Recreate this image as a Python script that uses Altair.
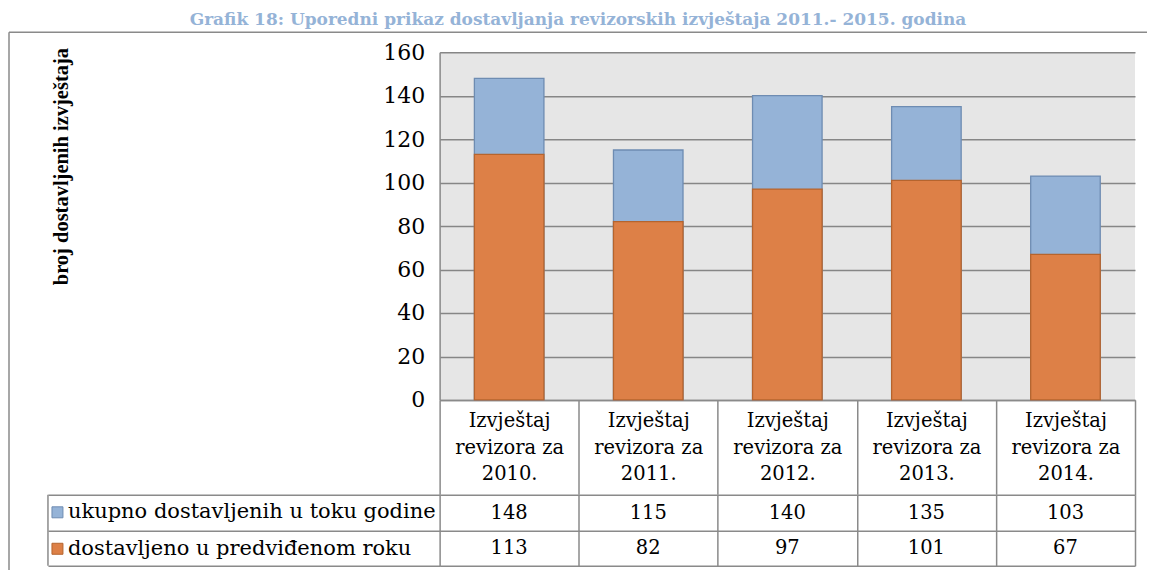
import altair as alt
import pandas as pd

# ---- data ----
categories = [
    "Izvještaj revizora za 2010.",
    "Izvještaj revizora za 2011.",
    "Izvještaj revizora za 2012.",
    "Izvještaj revizora za 2013.",
    "Izvještaj revizora za 2014.",
]
series_names = ["ukupno dostavljenih u toku godine", "dostavljeno u predviđenom roku"]
total_delivered = [148, 115, 140, 135, 103]
on_time = [113, 82, 97, 101, 67]
y_ticks = [0, 20, 40, 60, 80, 100, 120, 140, 160]
title_text = "Grafik 18: Uporedni prikaz dostavljanja revizorskih izvještaja 2011.- 2015. godina"
y_title = "broj dostavljenih izvještaja"

rows = []
for c, v in zip(categories, total_delivered):
    rows.append({"kategorija": c, "serija": series_names[0], "vrijednost": v})
for c, v in zip(categories, on_time):
    rows.append({"kategorija": c, "serija": series_names[1], "vrijednost": v})
df = pd.DataFrame(rows)
frame_df = pd.DataFrame({"k": [0]})

SERIF = "DejaVu Serif"
LINE = "#8A8A8A"
fills = ["#95B3D7", "#DD8047"]
strokes = ["#6E8CB2", "#B5642E"]

legend = alt.Legend(
    title=None, orient="none", legendX=-393, legendY=450,
    symbolType="square", symbolSize=121, symbolStrokeWidth=1,
    labelFont=SERIF, labelFontSize=21, labelColor="black", labelLimit=600,
    labelOffset=0, rowPadding=14.5, padding=0, offset=0,
)

x_top = alt.X(
    "kategorija:N", sort=categories, title=None,
    scale=alt.Scale(type="band", paddingInner=0, paddingOuter=0),
    axis=alt.Axis(
        domain=True, domainColor=LINE, domainWidth=1.5,
        ticks=True, tickBand="extent", tickSize=95, tickColor=LINE, tickWidth=1.5,
        labelExpr="[slice(datum.label, 0, 9), slice(datum.label, 10, 21), slice(datum.label, 22)]",
        labelFont=SERIF, labelFontSize=19.5, labelColor="black", labelAngle=0,
        labelLineHeight=26.5, labelBaseline="top", labelPadding=-83,
        grid=False,
    ),
)

bars = alt.Chart(df).mark_bar(width=alt.RelativeBandSize(0.5), strokeWidth=1.3).encode(
    x=x_top,
    y=alt.Y(
        "vrijednost:Q", stack=None, title=y_title,
        scale=alt.Scale(domain=[0, 160], nice=False),
        axis=alt.Axis(
            values=y_ticks, grid=True, gridColor="#868686", gridWidth=1.5,
            ticks=False, domain=True, domainColor=LINE, domainWidth=1.5,
            labelFont=SERIF, labelFontSize=22, labelColor="black", labelPadding=15,
            titleFont="Liberation Serif", titleFontSize=20.5, titleFontWeight="bold",
            titleColor="black", titleAngle=270, titleAlign="center", titleBaseline="middle",
            titleX=-378, titleY=114,
        ),
    ),
    fill=alt.Fill("serija:N", sort=series_names,
                  scale=alt.Scale(domain=series_names, range=fills), legend=legend),
    stroke=alt.Stroke("serija:N", sort=series_names,
                      scale=alt.Scale(domain=series_names, range=strokes), legend=legend),
)

frame_top = alt.Chart(frame_df).mark_rule(color=LINE, strokeWidth=1.5).encode(
    x=alt.value(-431), x2=alt.value(708), y=alt.value(-20)
)
frame_left = alt.Chart(frame_df).mark_rule(color=LINE, strokeWidth=1.5).encode(
    x=alt.value(-431), y=alt.value(-20), y2=alt.value(522)
)

top = alt.layer(frame_top, frame_left, bars).properties(
    width=696, height=348,
    view=alt.ViewBackground(fill="#E6E6E6", strokeWidth=0),
)

values_text = alt.Chart(df).mark_text(font=SERIF, fontSize=19.5, color="black").encode(
    x=alt.X(
        "kategorija:N", sort=categories, title=None,
        scale=alt.Scale(type="band", paddingInner=0, paddingOuter=0),
        axis=alt.Axis(grid=True, tickBand="extent", gridColor=LINE, gridWidth=1.5,
                      labels=False, ticks=False, domain=False),
    ),
    y=alt.Y(
        "serija:N", sort=series_names, title=None,
        scale=alt.Scale(type="band", paddingInner=0, paddingOuter=0),
        axis=alt.Axis(grid=True, tickBand="extent", gridColor=LINE, gridWidth=1.5,
                      ticks=True, tickSize=392, tickColor=LINE, tickWidth=1.5,
                      labels=False, domain=False),
    ),
    text="vrijednost:Q",
)
table_left = alt.Chart(frame_df).mark_rule(color=LINE, strokeWidth=1.5).encode(
    x=alt.value(-392), y=alt.value(0), y2=alt.value(71)
)
bottom = alt.layer(values_text, table_left).properties(
    width=696, height=71,
    view=alt.ViewBackground(fill="white", strokeWidth=0),
)

chart = alt.vconcat(top, bottom, spacing=95, bounds="flush").properties(
    title=alt.TitleParams(
        text=title_text, font=SERIF, fontSize=17, fontWeight="bold",
        color="#95B3D7", anchor="middle", offset=2,
    ),
    padding={"left": 0, "top": 3, "right": 0, "bottom": 0},
).configure_view(strokeWidth=0)

chart.save("out.html", embed_options={"renderer": "svg", "actions": False})
